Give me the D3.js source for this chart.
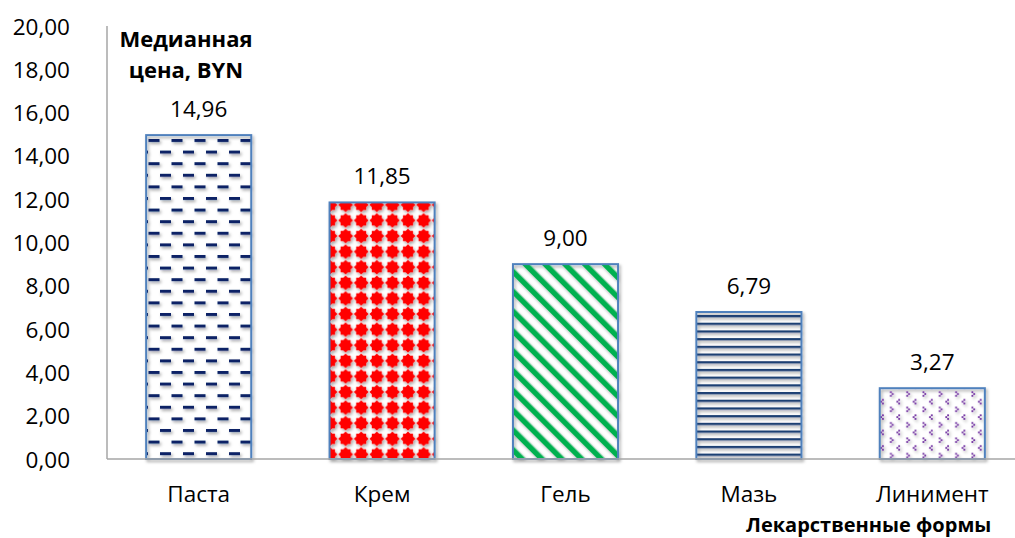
<!DOCTYPE html>
<html>
<head>
<meta charset="utf-8">
<title>Медианная цена</title>
<script src="https://cdn.jsdelivr.net/npm/d3@7"></script>
<style>
  html, body { margin: 0; padding: 0; background: #fff; }
  svg { display: block; font-family: "Open Sans", Lato, sans-serif; }
</style>
</head>
<body>
<div id="chart"></div>
<script>
// data
var categories = ["Паста", "Крем", "Гель", "Мазь", "Линимент"];
var prices = [14.96, 11.85, 9.00, 6.79, 3.27];
var yTicks = [0, 2, 4, 6, 8, 10, 12, 14, 16, 18, 20];
var patternIds = ["pDash", "pDiamond", "pDiag", "pHoriz", "pChevron"];

var w = 1015, h = 538;
var plotLeft = 107, plotTop = 26, plotBottom = 459;
var fmt = function(v) { return v.toFixed(2).replace(".", ","); };

var svg = d3.select("#chart").append("svg")
    .attr("width", w).attr("height", h);

var defs = svg.append("defs");

// dashed pattern (Паста)
var p1 = defs.append("pattern").attr("id", "pDash")
    .attr("patternUnits", "userSpaceOnUse")
    .attr("width", 23).attr("height", 23.2)
    .attr("x", 147).attr("y", 139);
p1.append("rect").attr("x", 1.5).attr("y", 0).attr("width", 11).attr("height", 3).attr("fill", "#0b2466");
p1.append("rect").attr("x", 13).attr("y", 11.6).attr("width", 11).attr("height", 3).attr("fill", "#0b2466");
p1.append("rect").attr("x", -10).attr("y", 11.6).attr("width", 11).attr("height", 3).attr("fill", "#0b2466");

// red diamonds (Крем)
var p2 = defs.append("pattern").attr("id", "pDiamond")
    .attr("patternUnits", "userSpaceOnUse")
    .attr("width", 15.6).attr("height", 15.6)
    .attr("x", 330 - 7.8).attr("y", 197);
p2.append("path")
    .attr("d", "M7.8,0.4 L10,2.8 L12.8,2.8 L12.8,5.6 L15.2,7.8 L12.8,10 L12.8,12.8 L10,12.8 L7.8,15.2 L5.6,12.8 L2.8,12.8 L2.8,10 L0.4,7.8 L2.8,5.6 L2.8,2.8 L5.6,2.8 Z")
    .attr("fill", "#ff0000");

// green diagonal stripes (Гель)
var p3 = defs.append("pattern").attr("id", "pDiag")
    .attr("patternUnits", "userSpaceOnUse")
    .attr("width", 14).attr("height", 14)
    .attr("patternTransform", "rotate(-45)");
p3.append("rect").attr("x", 0).attr("y", 0).attr("width", 5.4).attr("height", 14).attr("fill", "#00b050");

// horizontal lines (Мазь)
var p4 = defs.append("pattern").attr("id", "pHoriz")
    .attr("patternUnits", "userSpaceOnUse")
    .attr("width", 10).attr("height", 7.7)
    .attr("x", 0).attr("y", 315);
p4.append("rect").attr("x", 0).attr("y", 0).attr("width", 10).attr("height", 2.3).attr("fill", "#1f3f73");

// purple chevrons (Линимент)
var p5 = defs.append("pattern").attr("id", "pChevron")
    .attr("patternUnits", "userSpaceOnUse")
    .attr("width", 16.3).attr("height", 15.4)
    .attr("x", 880).attr("y", 391);
var chev = [[8, 0, 1], [0, 7.7, -1]];
chev.forEach(function(c) {
    var cx = c[0], cy = c[1], d = c[2];
    p5.append("rect").attr("x", cx + 2).attr("y", cy + 0.3).attr("width", 1.8).attr("height", 1.8).attr("fill", "#7030a0");
    p5.append("rect").attr("x", cx + 2 + d * 1.8).attr("y", cy + 2.1).attr("width", 1.8).attr("height", 1.8).attr("fill", "#7030a0");
    p5.append("rect").attr("x", cx + 2).attr("y", cy + 3.9).attr("width", 1.8).attr("height", 1.8).attr("fill", "#7030a0");
});

var shadow = defs.append("filter").attr("id", "shadow")
    .attr("x", "-10%").attr("y", "-10%").attr("width", "130%").attr("height", "130%");
shadow.append("feDropShadow").attr("dx", 1.5).attr("dy", 2).attr("stdDeviation", 1.5)
    .attr("flood-color", "#000").attr("flood-opacity", 0.35);

// scales
var x = d3.scaleBand().domain(categories).range([plotLeft, plotLeft + 5 * 183.4])
    .paddingInner(0.427).paddingOuter(0.2135);
var y = d3.scaleLinear().domain([0, 20]).range([plotBottom, plotTop]);

// y labels
svg.append("g").selectAll("text").data(yTicks).enter().append("text")
    .attr("x", 70).attr("y", function(d) { return y(d); })
    .attr("dy", "0.38em")
    .attr("text-anchor", "end")
    .attr("font-size", 22.5)
    .attr("fill", "#000")
    .text(fmt);

// bars
svg.append("g").selectAll("rect").data(prices).enter().append("rect")
    .attr("x", function(d, i) { return x(categories[i]); })
    .attr("y", function(d) { return y(d); })
    .attr("width", x.bandwidth())
    .attr("height", function(d) { return plotBottom - y(d); })
    .attr("fill", function(d, i) { return "url(#" + patternIds[i] + ")"; })
    .attr("stroke", "#4f81bd")
    .attr("stroke-width", 2)
    .attr("filter", "url(#shadow)");

// axes lines
svg.append("line").attr("x1", plotLeft).attr("x2", plotLeft).attr("y1", plotTop).attr("y2", plotBottom)
    .attr("stroke", "#a6a6a6").attr("stroke-width", 1.5);
svg.append("line").attr("x1", plotLeft).attr("x2", w).attr("y1", plotBottom).attr("y2", plotBottom)
    .attr("stroke", "#a6a6a6").attr("stroke-width", 1.5);

// value labels
svg.append("g").selectAll("text").data(prices).enter().append("text")
    .attr("x", function(d, i) { return x(categories[i]) + x.bandwidth() / 2; })
    .attr("y", function(d) { return y(d) - 18; })
    .attr("text-anchor", "middle")
    .attr("font-size", 22.5)
    .text(fmt);

// category labels
svg.append("g").selectAll("text").data(categories).enter().append("text")
    .attr("x", function(d) { return x(d) + x.bandwidth() / 2; })
    .attr("y", 502)
    .attr("text-anchor", "middle")
    .attr("font-size", 22.5)
    .text(function(d) { return d; });

// axis titles
svg.append("text").attr("x", 186).attr("y", 47).attr("text-anchor", "middle")
    .attr("font-size", 22).attr("font-weight", "bold").text("Медианная");
svg.append("text").attr("x", 186).attr("y", 78).attr("text-anchor", "middle")
    .attr("font-size", 22).attr("font-weight", "bold").text("цена, BYN");
svg.append("text").attr("x", 746).attr("y", 532)
    .attr("font-size", 20).attr("font-weight", "bold").text("Лекарственные формы");
</script>
</body>
</html>
